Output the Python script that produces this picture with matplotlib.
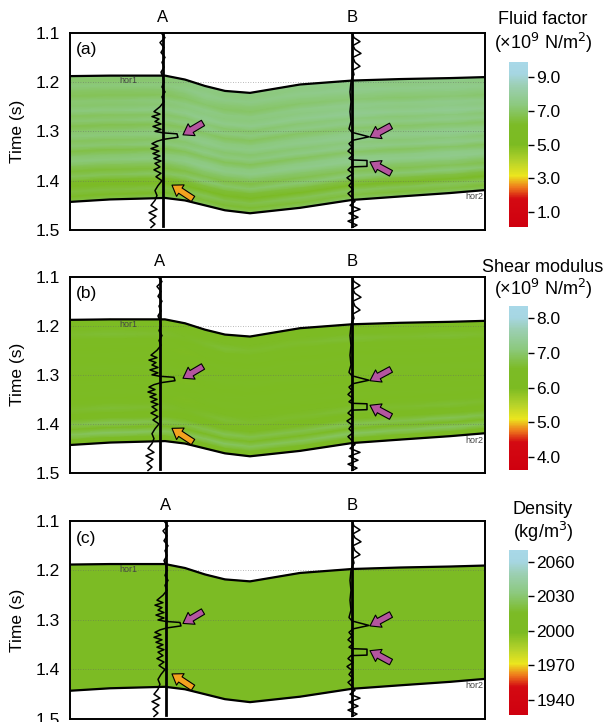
import numpy as np
import matplotlib
matplotlib.use("Agg")
import matplotlib.pyplot as plt
from matplotlib.colors import LinearSegmentedColormap

plt.rcParams['font.family'] = ['Liberation Sans', 'DejaVu Sans']

# horizons (x in trace units 0..415, time in s)
hor_x = [0, 40, 95, 115, 135, 155, 180, 230, 282, 330, 380, 415]
hor1_t = [1.188, 1.187, 1.187, 1.195, 1.208, 1.218, 1.222, 1.205, 1.197, 1.194, 1.192, 1.190]
hor2_t = [1.443, 1.438, 1.435, 1.440, 1.450, 1.460, 1.466, 1.455, 1.439, 1.432, 1.425, 1.419]

# property values along layers (top -> bottom) and lateral shifts
layers_a = [7.4, 7.3, 7.5, 7.2, 7.0, 7.4, 7.3, 7.6, 7.1, 7.4, 6.9, 7.3, 7.5,
            7.1, 7.4, 6.8, 7.3, 7.5, 7.0, 6.6, 7.1, 6.4, 6.0, 6.7, 6.3, 6.9]
lateral_a = [-0.2, -0.2, -0.1, 0.0, 0.1, 0.0, 0.0, 0.1, 0.2, 0.1, 0.2, 0.1]
layers_b = [6.2, 6.1, 6.3, 6.6, 6.1, 6.2, 6.0, 6.3, 6.1, 6.2, 6.5, 6.1, 6.0,
            6.2, 6.1, 6.3, 6.0, 6.2, 6.6, 6.1, 6.3, 6.8, 6.2, 6.9, 6.4, 6.1]
lateral_b = [0.0, 0.05, 0.0, -0.05, 0.0, 0.05, 0.0, 0.0, 0.05, 0.0, 0.05, 0.0]
layers_c = [2006, 2005, 2006, 2005, 2006, 2005, 2006, 2005, 2006, 2005, 2006, 2005, 2006,
            2005, 2006, 2005, 2006, 2005, 2006, 2005, 2006, 2005, 2006, 2005, 2006, 2005]
lateral_c = [0, 0, 0, 0, 0, 0, 0, 0, 0, 0, 0, 0]

# well logs: time and offset from well line
logA_t = [1.100, 1.110, 1.120, 1.130, 1.140, 1.150, 1.160, 1.170, 1.180, 1.190,
          1.200, 1.210, 1.220, 1.230, 1.240, 1.250, 1.260, 1.265, 1.270, 1.275,
          1.280, 1.285, 1.290, 1.296, 1.300, 1.303, 1.305, 1.312, 1.316, 1.320,
          1.325, 1.330, 1.335, 1.340, 1.345, 1.350, 1.355, 1.360, 1.365, 1.372,
          1.378, 1.385, 1.392, 1.400, 1.410, 1.420, 1.430, 1.440, 1.450, 1.458,
          1.465, 1.472, 1.480, 1.488, 1.495]
logA_off = [-2, 2, -3, 1, -2, 2, -1, 1, -2, 0,
            1, -1, 2, -1, 1, -3, -9, -3, -11, -4,
            -8, -2, -10, -2, -8, 0, 14, 15, 1, -6,
            -11, -5, -12, -4, -10, -3, -9, -2, -8, -3,
            -9, -2, -7, -1, -5, -8, -6, -8, -12, -6,
            -14, -7, -13, -8, -12]
logB_t = [1.100, 1.110, 1.118, 1.126, 1.134, 1.142, 1.150, 1.160, 1.168, 1.176,
          1.185, 1.192, 1.200, 1.220, 1.240, 1.260, 1.280, 1.295, 1.302, 1.311,
          1.318, 1.325, 1.332, 1.340, 1.348, 1.355, 1.358, 1.359, 1.371, 1.372,
          1.378, 1.386, 1.394, 1.402, 1.410, 1.418, 1.426, 1.434, 1.442, 1.450,
          1.458, 1.466, 1.474, 1.482, 1.490, 1.495]
logB_off = [0, 2, 8, 1, 3, 9, 1, 3, 8, 1,
            2, 0, -1, -2, -1, -2, -1, -3, 0, 17,
            1, -3, 0, -4, 1, -3, 0, 15, 15, -1,
            -4, 1, -5, 0, -3, 1, -4, 0, 3, -2,
            8, -3, 6, -4, 5, 0]

wellA_x = [93, 90, 96]
wellB_x = 282

# arrows: (tail, tip)
arrows_pink = [((133, 1.283), (113, 1.307)), ((321, 1.289), (300, 1.312)),
               ((321, 1.385), (300, 1.362))]
arrows_orange = [((123, 1.437), (102, 1.409))]

panels = ['(a)', '(b)', '(c)']
cb_title1 = ['Fluid factor', 'Shear modulus', 'Density']
cb_title2 = ['(×10$^9$ N/m$^2$)', '(×10$^9$ N/m$^2$)', '(kg/m$^3$)']
cb_ranges = [(0.11, 9.89), (3.63, 8.34), (1927, 2070)]
cb_ticks = [[1.0, 3.0, 5.0, 7.0, 9.0], [4.0, 5.0, 6.0, 7.0, 8.0],
            [1940, 1970, 2000, 2030, 2060]]
cb_fmt = ['%.1f', '%.1f', '%d']
all_layers = [layers_a, layers_b, layers_c]
all_lateral = [lateral_a, lateral_b, lateral_c]

cmap = LinearSegmentedColormap.from_list('prop', [
    (0.0, '#cf000f'), (0.17, '#d40a12'), (0.24, '#ee7a1c'), (0.31, '#ece61e'),
    (0.40, '#b4d22a'), (0.50, '#7cbb22'), (0.62, '#7cbb26'), (0.74, '#8cc97e'),
    (0.86, '#9ccfb4'), (0.93, '#a6d6e2'), (1.0, '#a8d8e8')])

fig = plt.figure(figsize=(6.08, 7.22), dpi=100)
ax_pos = [[0.1151, 0.6814, 0.6826, 0.2733],
          [0.1151, 0.3449, 0.6826, 0.2719],
          [0.1151, 0.0042, 0.6826, 0.2742]]
cb_pos = [[0.8372, 0.6856, 0.03125, 0.2285],
          [0.8372, 0.3490, 0.03125, 0.2271],
          [0.8372, 0.0097, 0.03125, 0.2285]]
title_px = [(20, 43), (267, 289), (510, 532)]

hx = np.array(hor_x, float)
h1 = np.array(hor1_t)
h2 = np.array(hor2_t)

for i in range(3):
    ax = fig.add_axes(ax_pos[i])
    lay = np.array(all_layers[i], float)
    lat = np.array(all_lateral[i], float)
    u = np.linspace(0, 1, len(lay))[:, None]
    X = np.repeat(hx[None, :], len(lay), axis=0)
    Y = h1[None, :] + u * (h2 - h1)[None, :]
    C = lay[:, None] + lat[None, :]
    vmin, vmax = cb_ranges[i]
    mesh = ax.pcolormesh(X, Y, C, cmap=cmap, vmin=vmin, vmax=vmax,
                         shading='gouraud', zorder=1)
    ax.plot(hx, h1, color='k', lw=1.6, zorder=4)
    ax.plot(hx, h2, color='k', lw=1.6, zorder=4)
    for t in [1.2, 1.3, 1.4]:
        ax.axhline(t, color='#666666', ls=(0, (1, 2)), lw=0.6, alpha=0.6, zorder=2)

    ax.text(58, 1.197, 'hor1', fontsize=6.5, color='#444444', ha='center', va='center', zorder=5)
    ax.text(413, 1.433, 'hor2', fontsize=6.5, color='#444444', ha='right', va='center', zorder=5)

    wa = wellA_x[i]
    ax.plot([wa, wa], [1.1, 1.492], color='k', lw=2, zorder=5)
    ax.plot(wa + np.array(logA_off), logA_t, color='k', lw=1.1, zorder=5)
    ax.plot([wellB_x, wellB_x], [1.1, 1.492], color='k', lw=2, zorder=5)
    ax.plot(wellB_x + np.array(logB_off), logB_t, color='k', lw=1.1, zorder=5)

    for tail, tip in arrows_pink:
        ax.annotate('', xy=tip, xytext=tail, zorder=6,
                    arrowprops=dict(arrowstyle='simple,head_width=1.1,head_length=0.8,tail_width=0.5',
                                    fc='#b4559f', ec='k', lw=0.8, mutation_scale=9,
                                    shrinkA=0, shrinkB=0))
    for tail, tip in arrows_orange:
        ax.annotate('', xy=tip, xytext=tail, zorder=6,
                    arrowprops=dict(arrowstyle='simple,head_width=1.1,head_length=0.8,tail_width=0.5',
                                    fc='#f3a21f', ec='k', lw=0.8, mutation_scale=9,
                                    shrinkA=0, shrinkB=0))

    ax.text(6, 1.135, panels[i], fontsize=12.5, ha='left', va='center', zorder=6)
    ax.annotate('A', xy=(wa, 1.078), xycoords=('data', 'axes fraction'),
                fontsize=12, ha='center', va='center', annotation_clip=False)
    ax.annotate('B', xy=(wellB_x, 1.078), xycoords=('data', 'axes fraction'),
                fontsize=12, ha='center', va='center', annotation_clip=False)

    ax.set_xlim(0, 415)
    ax.set_ylim(1.5, 1.1)
    ax.set_xticks([])
    ax.set_yticks([1.1, 1.2, 1.3, 1.4, 1.5])
    ax.set_yticklabels(['1.1', '1.2', '1.3', '1.4', '1.5'])
    ax.tick_params(axis='y', length=0, pad=7, labelsize=12.5)
    ax.set_ylabel('Time (s)', fontsize=12.5, labelpad=8)
    for s in ax.spines.values():
        s.set_linewidth(1.4)

    cax = fig.add_axes(cb_pos[i])
    cb = fig.colorbar(mesh, cax=cax, ticks=cb_ticks[i], format=cb_fmt[i])
    cb.outline.set_visible(False)
    cax.tick_params(length=4, width=1, pad=2, labelsize=12.5)
    y1, y2 = title_px[i]
    fig.text(0.893, 1 - y1 / 722, cb_title1[i], fontsize=13, ha='center', va='center')
    fig.text(0.893, 1 - y2 / 722, cb_title2[i], fontsize=13, ha='center', va='center')

fig.savefig('out.png', dpi=100)
